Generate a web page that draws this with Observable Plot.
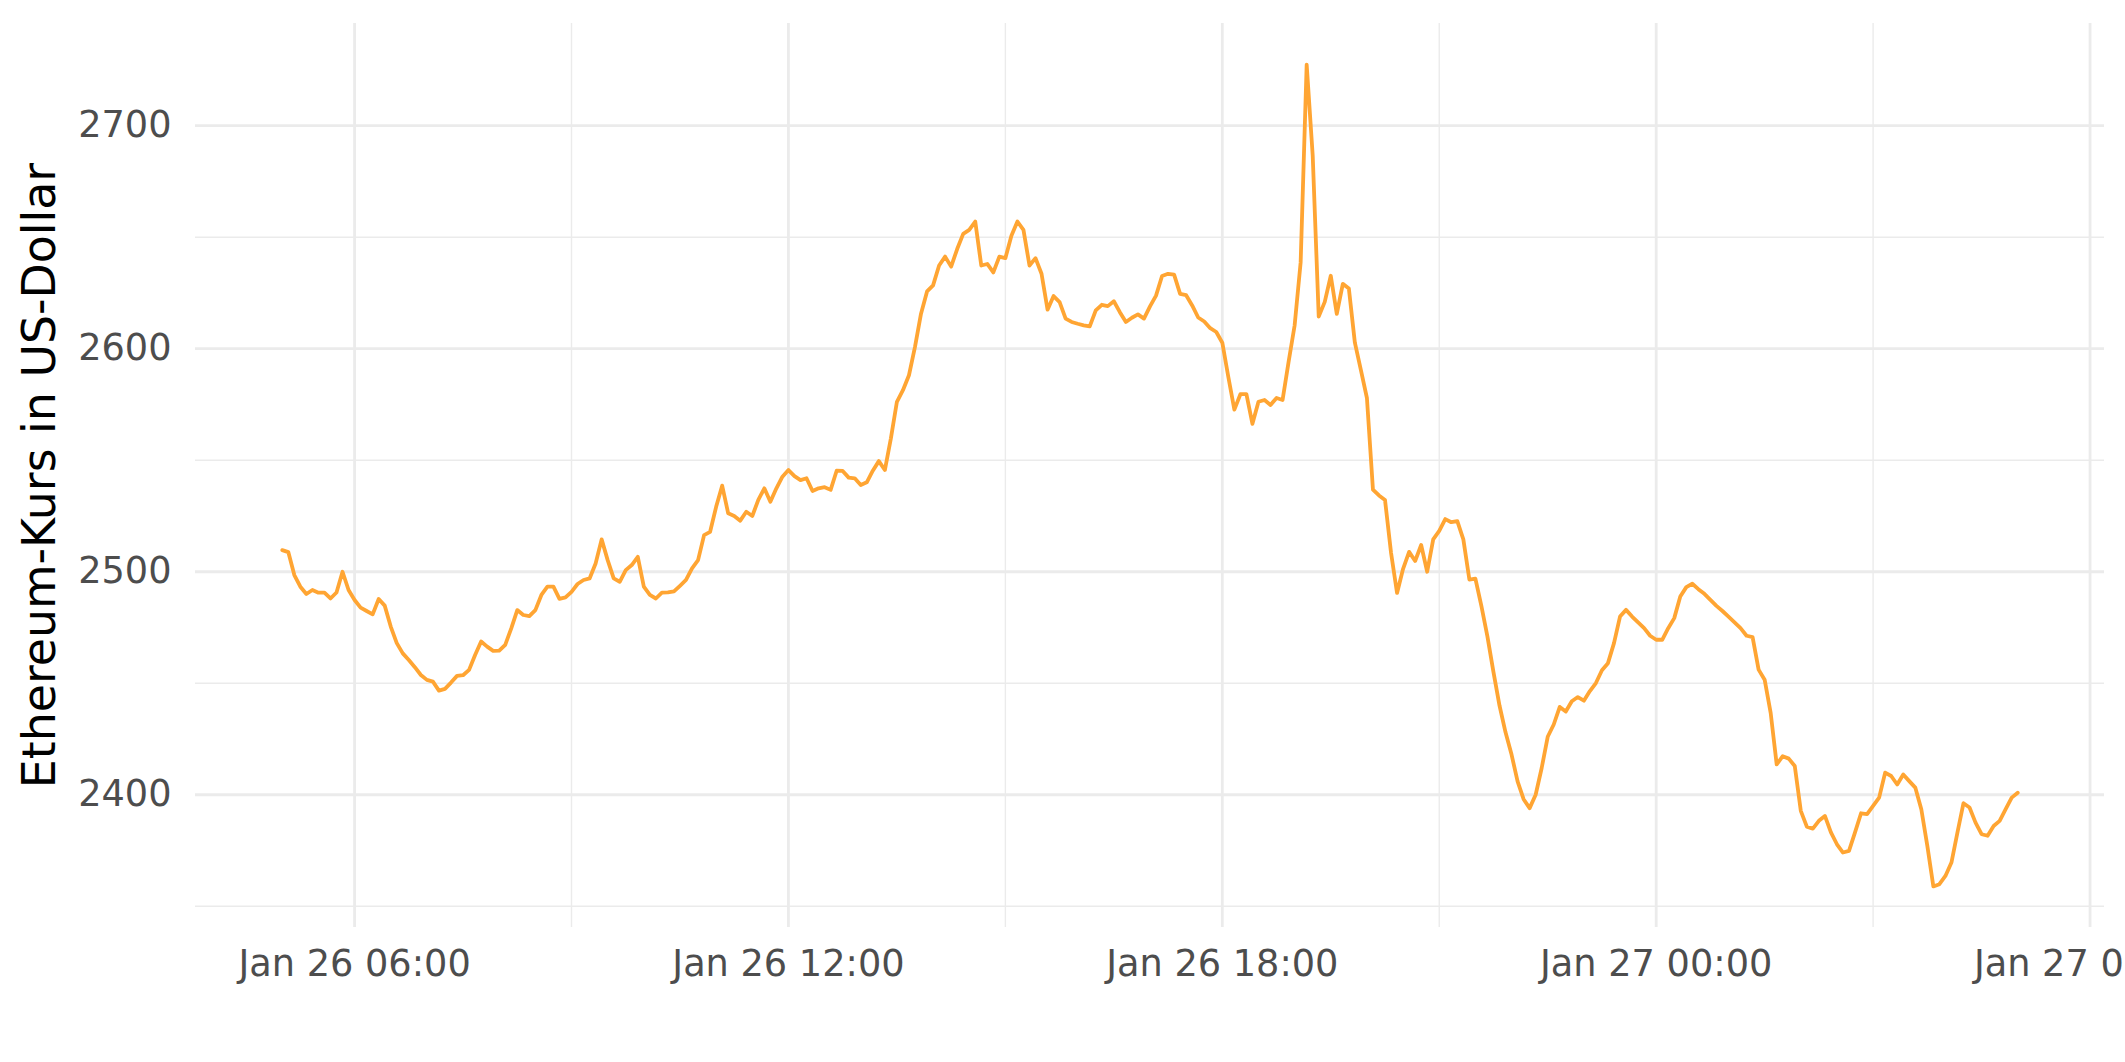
<!DOCTYPE html>
<html><head><meta charset="utf-8">
<script src="https://cdn.jsdelivr.net/npm/d3@7"></script>
<script src="https://cdn.jsdelivr.net/npm/@observablehq/plot@0.6"></script>
<style>html,body{margin:0;padding:0;background:#fff;overflow:hidden;} svg{display:block}</style>
</head><body><div id="chart"></div>
<script>
// 5-minute samples starting Jan 26 05:00 (UTC)
const startTime = "2022-01-26T05:00:00Z";
const stepMinutes = 5;
const prices = [
 2509.7,2508.8,2498.5,2493.3,2490.0,2491.8,2490.6,2490.6,2488.0,2490.7,
 2500.0,2491.8,2487.3,2483.9,2482.4,2480.9,2487.8,2484.8,2475.4,2468.0,
 2463.4,2460.4,2457.2,2453.7,2451.5,2450.7,2446.7,2447.5,2450.3,2453.3,
 2453.6,2456.0,2462.7,2468.7,2466.4,2464.5,2464.6,2467.2,2474.6,2482.8,
 2480.6,2480.1,2482.8,2489.6,2493.3,2493.3,2487.8,2488.5,2491.0,2494.5,
 2496.3,2497.0,2503.7,2514.5,2505.2,2497.0,2495.5,2500.7,2503.0,2506.7,
 2493.3,2489.6,2488.0,2490.6,2490.7,2491.2,2493.7,2496.3,2501.5,2505.2,
 2516.4,2517.9,2529.1,2538.6,2526.2,2525.0,2522.9,2526.9,2525.0,2532.2,
 2537.4,2531.4,2537.4,2542.6,2545.6,2542.9,2541.1,2541.9,2536.2,2537.4,
 2537.9,2536.7,2545.3,2545.2,2542.2,2541.9,2538.9,2540.1,2545.3,2549.6,
 2545.6,2559.8,2576.2,2581.4,2588.1,2600.8,2615.7,2625.7,2628.4,2637.3,
 2641.3,2636.8,2644.7,2651.5,2653.3,2657.0,2637.3,2638.0,2634.2,2641.3,
 2640.6,2650.7,2657.0,2653.3,2637.3,2640.6,2633.6,2617.5,2623.6,2620.9,
 2613.5,2612.0,2611.2,2610.5,2610.0,2617.2,2619.7,2619.1,2621.3,2616.4,
 2612.0,2613.9,2615.4,2613.5,2619.0,2623.8,2632.6,2633.6,2633.2,2624.6,
 2624.0,2619.4,2614.0,2612.2,2609.2,2607.5,2602.7,2587.3,2572.7,2579.6,
 2579.6,2566.3,2576.2,2577.0,2574.8,2577.9,2577.0,2594.1,2610.4,2638.7,
 2727.4,2686.7,2614.4,2621.0,2632.7,2615.6,2629.1,2627.0,2602.7,2590.4,
 2577.9,2536.8,2534.2,2532.2,2508.5,2490.5,2501.3,2508.9,2504.8,2512.0,
 2500.0,2514.5,2518.3,2523.6,2522.2,2522.7,2514.5,2496.5,2496.9,2484.6,
 2470.9,2455.0,2440.0,2428.0,2418.0,2406.0,2398.0,2394.0,2400.0,2412.0,
 2426.0,2431.5,2439.4,2437.3,2441.9,2443.8,2442.2,2446.5,2450.1,2455.8,
 2459.0,2468.0,2479.9,2482.9,2479.9,2477.3,2474.7,2471.3,2469.5,2469.5,
 2474.7,2479.2,2488.9,2493.1,2494.6,2492.2,2490.1,2487.4,2484.7,2482.4,
 2479.9,2477.3,2474.7,2471.3,2470.7,2456.1,2451.6,2436.7,2413.6,2417.3,
 2416.2,2412.9,2392.8,2385.7,2384.8,2388.3,2390.5,2383.1,2377.8,2374.1,
 2374.8,2383.1,2391.7,2391.3,2395.0,2398.7,2409.9,2408.4,2404.6,2409.1,
 2406.1,2403.2,2393.5,2377.1,2358.9,2359.9,2363.6,2369.6,2383.1,2396.2,
 2394.3,2387.5,2382.3,2381.6,2386.0,2388.3,2393.5,2398.7,2400.9
];
const xMajorTicks = ["2022-01-26T06:00:00Z","2022-01-26T12:00:00Z","2022-01-26T18:00:00Z","2022-01-27T00:00:00Z","2022-01-27T06:00:00Z"];
const xMinorTicks = ["2022-01-26T09:00:00Z","2022-01-26T15:00:00Z","2022-01-26T21:00:00Z","2022-01-27T03:00:00Z"];
const yMajorTicks = [2400, 2500, 2600, 2700];
const yMinorTicks = [2350, 2450, 2550, 2650];
const yTitle = "Ethereum-Kurs in US-Dollar";

const t0 = new Date(startTime);
const data = prices.map((p, i) => ({time: new Date(+t0 + i * stepMinutes * 60000), price: p}));
const [xmin, xmax] = d3.extent(data, d => d.time);
const xr = xmax - xmin;
const [ymin, ymax] = d3.extent(prices);
const yr = ymax - ymin;
const grid = "#ebebeb";
const tickCol = "#4d4d4d";

const chart = Plot.plot({
  width: 2125, height: 1062,
  marginLeft: 195, marginRight: 21, marginTop: 23, marginBottom: 135,
  style: {fontFamily: "'DejaVu Sans', sans-serif", background: "#fff"},
  x: {type: "utc", domain: [new Date(+xmin - 0.05 * xr), new Date(+xmax + 0.05 * xr)]},
  y: {domain: [ymin - 0.05 * yr, ymax + 0.05 * yr]},
  marks: [
    Plot.gridX(xMinorTicks.map(d => new Date(d)), {stroke: grid, strokeOpacity: 1, strokeWidth: 1.4}),
    Plot.gridY(yMinorTicks, {stroke: grid, strokeOpacity: 1, strokeWidth: 1.4}),
    Plot.gridX(xMajorTicks.map(d => new Date(d)), {stroke: grid, strokeOpacity: 1, strokeWidth: 2.8}),
    Plot.gridY(yMajorTicks, {stroke: grid, strokeOpacity: 1, strokeWidth: 2.8}),
    Plot.axisX(xMajorTicks.map(d => new Date(d)), {tickSize: 0, tickPadding: 22, tickFormat: d3.utcFormat("%b %d %H:%M"), fontSize: 36.7, fill: tickCol, label: null}),
    Plot.axisY(yMajorTicks, {tickSize: 0, tickPadding: 24, tickFormat: d => String(d), fontSize: 36.7, fill: tickCol, label: null}),
    Plot.text([yTitle], {text: d => d, frameAnchor: "left", textAnchor: "middle", lineAnchor: "middle", rotate: -90, dx: -155, fontSize: 45.8, fill: "#000"}),
    Plot.line(data, {x: "time", y: "price", stroke: "#ffa533", strokeWidth: 3.8})
  ]
});
document.getElementById("chart").appendChild(chart);
</script>
</body></html>
